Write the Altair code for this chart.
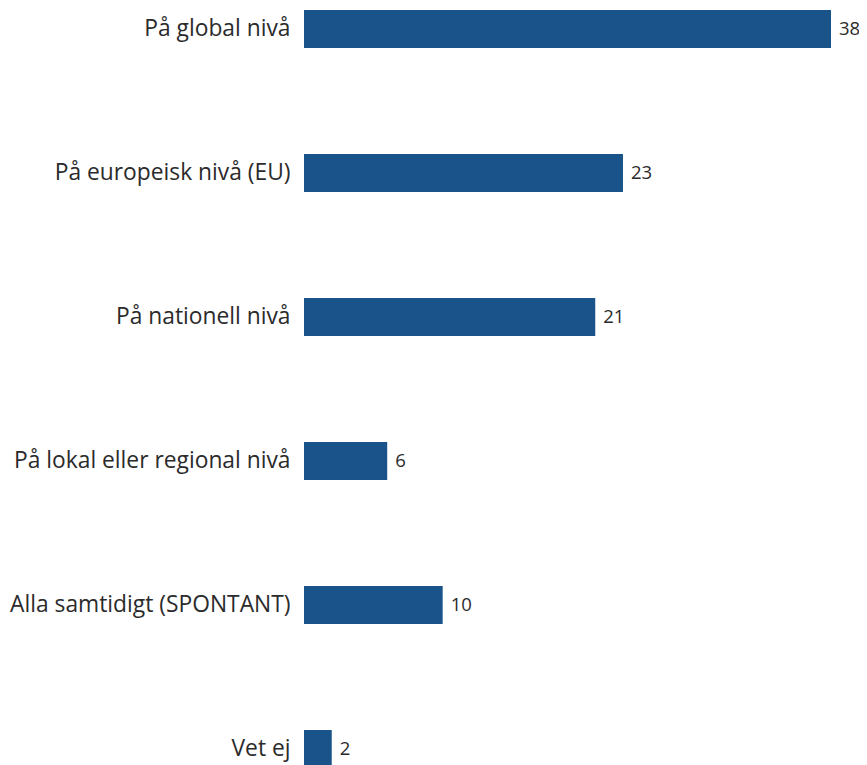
import altair as alt
import pandas as pd

categories = ["På global nivå", "På europeisk nivå (EU)", "På nationell nivå",
              "På lokal eller regional nivå", "Alla samtidigt (SPONTANT)", "Vet ej"]
values = [38, 23, 21, 6, 10, 2]

df = pd.DataFrame({"cat": categories, "val": values})

y = alt.Y("cat:N", sort=categories,
          scale=alt.Scale(paddingInner=0.736, paddingOuter=0.014, range=[0, 762]),
          axis=alt.Axis(title=None, domain=False, ticks=False, labelPadding=14,
                        labelFontSize=22.8, labelFont="Open Sans", labelColor="#2b2b2b",
                        labelLimit=400))
x = alt.X("val:Q", scale=alt.Scale(domain=[0, 38], nice=False),
          axis=None)

bars = alt.Chart(df).mark_bar(color="#19538a").encode(x=x, y=y)
labels = alt.Chart(df).mark_text(align="left", baseline="middle", dx=8,
                                 fontSize=18.5, font="Open Sans", color="#2b2b2b").encode(
    x=x, y=y, text="val:Q")

chart = (bars + labels).properties(
    width=527, height=757,
    autosize=alt.AutoSizeParams(type="none"),
    padding={"left": 296, "top": 0, "right": 28, "bottom": 0},
).configure_view(stroke=None)
chart.save("out.html", embed_options={"renderer": "svg", "actions": False})
